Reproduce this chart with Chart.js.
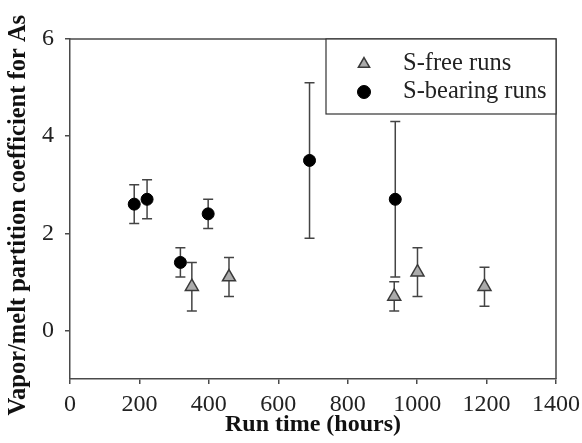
<!DOCTYPE html>
<html>
<head>
<meta charset="utf-8">
<script src="https://cdn.jsdelivr.net/npm/chart.js@4.4.1/dist/chart.umd.min.js"></script>
<style>
  html, body { margin: 0; padding: 0; background: #fff; }
</style>
</head>
<body>
<canvas id="chart" width="582" height="443"></canvas>
<script>
// S-free runs (triangles)
const freeHours = [351, 458, 934, 1001, 1194];
const freeValues = [0.9, 1.1, 0.7, 1.2, 0.9];
const freeLow = [0.4, 0.7, 0.4, 0.7, 0.5];
const freeHigh = [1.4, 1.5, 1.0, 1.7, 1.3];

// S-bearing runs (circles)
const bearingHours = [185, 222, 318, 398, 690, 937];
const bearingValues = [2.6, 2.7, 1.4, 2.4, 3.5, 2.7];
const bearingLow = [2.2, 2.3, 1.1, 2.1, 1.9, 1.1];
const bearingHigh = [3.0, 3.1, 1.7, 2.7, 5.1, 4.3];

const xTicks = [0, 200, 400, 600, 800, 1000, 1200, 1400];
const yTicks = [0, 2, 4, 6];

const axisColor = "#4a4a4a";
Chart.defaults.font.family = '"Liberation Serif", "Times New Roman", serif';
Chart.defaults.color = "#222";

// vertical error bars with caps, drawn under the markers
const errorBars = {
    id: "errorBars",
    beforeDatasetsDraw(chart) {
        const { ctx, scales: { x, y } } = chart;
        ctx.save();
        ctx.strokeStyle = "#444";
        ctx.lineWidth = 1.5;
        chart.data.datasets.forEach((ds) => {
            ds.data.forEach((p, i) => {
                const px = x.getPixelForValue(p.x);
                const top = y.getPixelForValue(ds.errHigh[i]);
                const bot = y.getPixelForValue(ds.errLow[i]);
                ctx.beginPath();
                ctx.moveTo(px, top);
                ctx.lineTo(px, bot);
                ctx.moveTo(px - 5, top);
                ctx.lineTo(px + 5, top);
                ctx.moveTo(px - 5, bot);
                ctx.lineTo(px + 5, bot);
                ctx.stroke();
            });
        });
        ctx.restore();
    },
};

// top/right frame and the boxed legend in the upper right corner
const frameLegend = {
    id: "frameLegend",
    afterDatasetsDraw(chart, args, opts) {
        const { ctx, chartArea: a } = chart;
        ctx.save();
        ctx.strokeStyle = axisColor;
        ctx.lineWidth = 1.5;
        ctx.beginPath();
        ctx.moveTo(a.left, a.top);
        ctx.lineTo(a.right, a.top);
        ctx.lineTo(a.right, a.bottom);
        ctx.stroke();

        const bx = a.right - opts.width;
        const by = a.top;
        ctx.fillStyle = "#fff";
        ctx.fillRect(bx, by, opts.width, opts.height);
        ctx.strokeStyle = "#333";
        ctx.lineWidth = 1.2;
        ctx.strokeRect(bx, by, opts.width, opts.height);

        ctx.font = opts.font;
        ctx.textBaseline = "middle";
        chart.data.datasets.forEach((ds, i) => {
            const cy = by + opts.firstRow + i * opts.rowGap;
            ctx.fillStyle = ds.backgroundColor;
            ctx.strokeStyle = ds.borderColor;
            ctx.lineWidth = ds.borderWidth;
            Chart.helpers.drawPoint(ctx, {
                pointStyle: ds.pointStyle,
                radius: ds.legendRadius,
                borderWidth: ds.borderWidth,
                rotation: 0,
            }, bx + opts.markerX, cy);
            ctx.fillStyle = "#222";
            ctx.fillText(ds.label, bx + opts.textX, cy);
        });
        ctx.restore();
    },
};

const toPoints = (xs, ys) => xs.map((v, i) => ({ x: v, y: ys[i] }));

new Chart(document.getElementById("chart"), {
    type: "scatter",
    data: {
        datasets: [
            {
                label: "S-free runs",
                data: toPoints(freeHours, freeValues),
                errLow: freeLow,
                errHigh: freeHigh,
                pointStyle: "triangle",
                pointRadius: 7.5,
                legendRadius: 6.5,
                backgroundColor: "#ababab",
                borderColor: "#3a3a3a",
                borderWidth: 1.5,
            },
            {
                label: "S-bearing runs",
                data: toPoints(bearingHours, bearingValues),
                errLow: bearingLow,
                errHigh: bearingHigh,
                pointStyle: "circle",
                pointRadius: 6,
                legendRadius: 6.5,
                backgroundColor: "#000",
                borderColor: "#000",
                borderWidth: 1,
            },
        ],
    },
    options: {
        responsive: false,
        animation: false,
        layout: { padding: { top: 39, right: 26, left: 0, bottom: 0 } },
        plugins: {
            legend: { display: false },
            tooltip: { enabled: false },
            frameLegend: {
                width: 230,
                height: 75,
                markerX: 38,
                textX: 77,
                firstRow: 25,
                rowGap: 28,
                font: '24.5px "Liberation Serif", "Times New Roman", serif',
            },
        },
        scales: {
            x: {
                type: "linear",
                min: 0,
                max: 1400,
                afterBuildTicks: (s) => { s.ticks = xTicks.map((v) => ({ value: v })); },
                afterFit: (s) => {
                    s.height = 64;
                    // let the layout padding decide the right edge
                    s.paddingLeft = 0;
                    s.paddingRight = 0;
                },
                grid: { drawOnChartArea: false, tickLength: 5, color: axisColor, lineWidth: 1.5 },
                border: { color: axisColor, width: 1.5 },
                ticks: {
                    padding: 6,
                    font: { size: 24 },
                    color: "#222",
                    maxRotation: 0,
                    callback: (v) => String(v),
                },
                title: {
                    display: true,
                    text: "Run time (hours)",
                    color: "#111",
                    font: { size: 24, weight: "bold" },
                    padding: { top: 0, bottom: 4 },
                },
            },
            y: {
                min: -1,
                max: 6,
                afterBuildTicks: (s) => { s.ticks = yTicks.map((v) => ({ value: v })); },
                afterFit: (s) => { s.width = 70; },
                grid: { drawOnChartArea: false, tickLength: 5, color: axisColor, lineWidth: 1.5 },
                border: { color: axisColor, width: 1.5 },
                ticks: { padding: 11, font: { size: 24 }, color: "#222", callback: (v) => String(v) },
                title: {
                    display: true,
                    text: "Vapor/melt partition coefficient for As  ",
                    color: "#111",
                    font: { size: 24.5, weight: "bold" },
                    padding: { top: 4, bottom: 0 },
                },
            },
        },
    },
    plugins: [errorBars, frameLegend],
});
</script>
</body>
</html>
